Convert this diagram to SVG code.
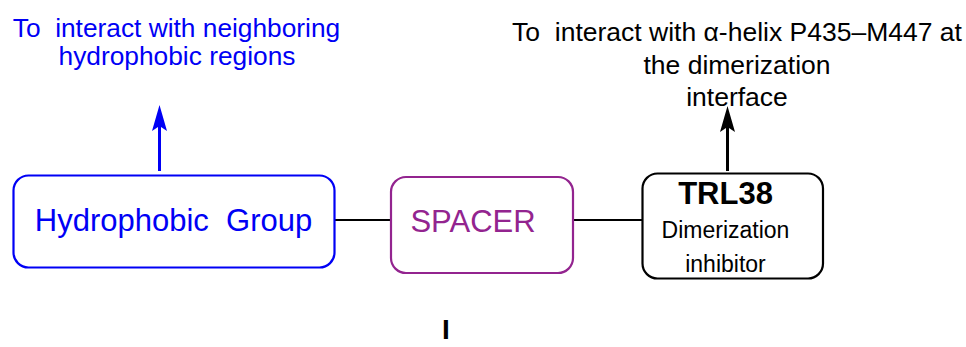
<svg xmlns="http://www.w3.org/2000/svg" width="966" height="347" viewBox="0 0 966 347">
<defs>
<style>
text{font-family:"Liberation Sans",Arial,sans-serif;white-space:pre}
.box{fill:#fff;stroke-width:2.2}
.blue{fill:#0000F5}
.blk{fill:#000}
.pur{fill:#93248F}
</style>
<marker id="ab" markerWidth="28" markerHeight="16" refX="17" refY="8" orient="auto" markerUnits="userSpaceOnUse" viewBox="0 0 28 16">
<path d="M27,8 L1,0.5 L6,8 L1,15.5 Z" fill="#0000F5"/>
</marker>
<marker id="ak" markerWidth="28" markerHeight="16" refX="17" refY="8" orient="auto" markerUnits="userSpaceOnUse" viewBox="0 0 28 16">
<path d="M27,8 L1,0.5 L6,8 L1,15.5 Z" fill="#000"/>
</marker>
</defs>
<g id="connectors">
<line x1="335" y1="220" x2="391" y2="220" stroke="#000" stroke-width="2.2"/>
<line x1="574" y1="220" x2="642" y2="220" stroke="#000" stroke-width="2.2"/>
<line x1="159.5" y1="171" x2="159.5" y2="115" stroke="#0000F5" stroke-width="3" marker-end="url(#ab)"/>
<line x1="727.5" y1="171" x2="727.5" y2="116" stroke="#000" stroke-width="3" marker-end="url(#ak)"/>
</g>
<g id="label-hydro">
<text class="blue" x="176.5" y="37" font-size="26.3" text-anchor="middle">To  interact with neighboring</text>
<text class="blue" x="177" y="65" font-size="26.3" text-anchor="middle">hydrophobic regions</text>
</g>
<g id="label-trl">
<text class="blk" x="737" y="41" font-size="26.5" text-anchor="middle">To  interact with α-helix P435–M447 at</text>
<text class="blk" x="737" y="74" font-size="26.5" text-anchor="middle">the dimerization</text>
<text class="blk" x="737" y="106" font-size="26.5" text-anchor="middle">interface</text>
</g>
<g id="hydrophobic-group">
<rect class="box" x="13.5" y="175.5" width="321" height="92" rx="15" stroke="#0000F5"/>
<text class="blue" x="173.5" y="231" font-size="31" text-anchor="middle">Hydrophobic  Group</text>
</g>
<g id="spacer">
<rect class="box" x="391" y="177" width="182" height="96" rx="15" stroke="#93248F"/>
<text class="pur" x="473" y="231.5" font-size="31" text-anchor="middle">SPACER</text>
</g>
<g id="trl38">
<rect class="box" x="642.5" y="173.5" width="180.5" height="105" rx="15" stroke="#000"/>
<text class="blk" x="725.5" y="204" font-size="31" font-weight="bold" text-anchor="middle">TRL38</text>
<text class="blk" x="725.5" y="237.5" font-size="23" text-anchor="middle">Dimerization</text>
<text class="blk" x="725.5" y="271.5" font-size="23" text-anchor="middle">inhibitor</text>
</g>
<g id="compound-label">
<text class="blk" x="446" y="339" font-size="28" font-weight="bold" text-anchor="middle">I</text>
</g>
</svg>
